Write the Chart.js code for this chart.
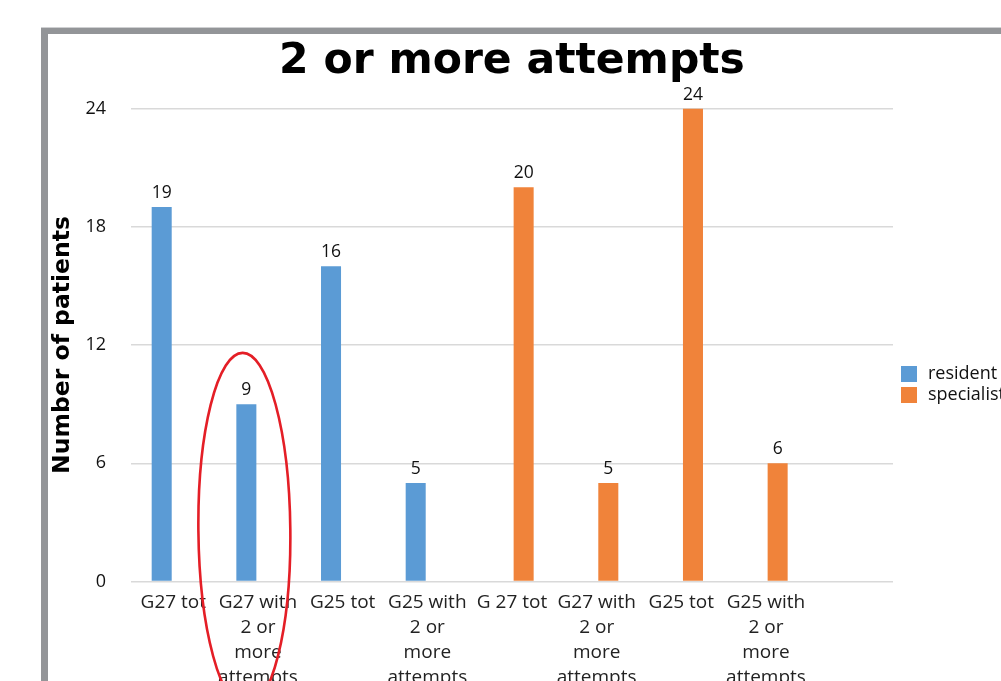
<!DOCTYPE html>
<html>
<head>
<meta charset="utf-8">
<title>2 or more attempts</title>
<script src="https://cdn.jsdelivr.net/npm/chart.js@4.4.1/dist/chart.umd.min.js"></script>
<style>
  html, body { margin: 0; padding: 0; background: #fff; overflow: hidden; width: 1001px; height: 681px; }
  #frameEdge { position: absolute; left: 41px; top: 27px; right: 0; height: 1px; background: #cfd0d2; }
  #frame { position: absolute; left: 41px; top: 28px; right: 0; bottom: 0;
           border-top: 6px solid #939598; border-left: 7px solid #939598; }
  #wrap { position: absolute; left: 0; top: 0; width: 1001px; height: 700px; }
</style>
</head>
<body>
<div id="frameEdge"></div>
<div id="frame"></div>
<div id="wrap"><canvas id="chart" width="1001" height="700"></canvas></div>
<script>
// Categories (multi-line labels); the last slot is an empty spacer category
const categories = [
  ["G27 tot"],
  ["G27 with", "2 or", "more", "attempts"],
  ["G25 tot"],
  ["G25 with", "2 or", "more", "attempts"],
  ["G 27 tot"],
  ["G27 with", "2 or", "more", "attempts"],
  ["G25 tot"],
  ["G25 with", "2 or", "more", "attempts"],
  ""
];
const seriesNames = ["resident", "specialist"];
const residentValues   = [19, 9, 16, 5, null, null, null, null, null];
const specialistValues = [null, null, null, null, 20, 5, 24, 6, null];
const yTicks = [0, 6, 12, 18, 24];
const chartTitle = "2 or more attempts";
const yAxisTitle = "Number of patients";
// Highlighted category (resident bar) and the vertical extent of the ring, in axis units
const highlightIndex = 1;
const highlightRange = [-6.4, 11.6];

const seriesColors = ["#5B9BD5", "#F0833A"];
const textFont = "'Open Sans', 'Liberation Sans', sans-serif";

// Value labels above each bar
const valueLabels = {
  id: "valueLabels",
  afterDatasetsDraw(chart) {
    const ctx = chart.ctx;
    ctx.save();
    ctx.font = "17.5px " + textFont;
    ctx.fillStyle = "#111";
    ctx.textAlign = "center";
    ctx.textBaseline = "alphabetic";
    chart.data.datasets.forEach((ds, di) => {
      const meta = chart.getDatasetMeta(di);
      meta.data.forEach((bar, i) => {
        const v = ds.data[i];
        if (v === null || v === undefined) return;
        ctx.fillText(String(v), bar.x, bar.y - 9);
      });
    });
    ctx.restore();
  }
};

// Legend drawn to the right of the plot area
const sideLegend = {
  id: "sideLegend",
  afterDraw(chart) {
    const ctx = chart.ctx;
    const area = chart.chartArea;
    const x = area.right + 8;
    const y0 = (area.top + area.bottom) / 2 + 21;
    ctx.save();
    ctx.font = "18px " + textFont;
    ctx.textBaseline = "middle";
    ctx.textAlign = "left";
    chart.data.datasets.forEach((ds, i) => {
      const y = y0 + i * 21;
      ctx.fillStyle = ds.backgroundColor;
      ctx.fillRect(x, y, 16, 16);
      ctx.fillStyle = "#111";
      ctx.fillText(ds.label, x + 27, y + 7.5);
    });
    ctx.restore();
  }
};

// Red ring around the highlighted category
const highlightRing = {
  id: "highlightRing",
  afterDraw(chart) {
    const ctx = chart.ctx;
    const xs = chart.scales.x, ys = chart.scales.y;
    const bar = chart.getDatasetMeta(0).data[highlightIndex];
    const step = xs.getPixelForValue(1) - xs.getPixelForValue(0);
    const top = ys.getPixelForValue(highlightRange[1]);
    const bottom = ys.getPixelForValue(highlightRange[0]);
    ctx.save();
    ctx.strokeStyle = "#E41E26";
    ctx.lineWidth = 2.6;
    ctx.beginPath();
    ctx.ellipse(bar.x - 2, (top + bottom) / 2, step * 0.543, (bottom - top) / 2, -0.01, 0, Math.PI * 2);
    ctx.stroke();
    ctx.restore();
  }
};

new Chart(document.getElementById("chart"), {
  type: "bar",
  data: {
    labels: categories,
    datasets: [
      { label: seriesNames[0], data: residentValues, backgroundColor: seriesColors[0] },
      { label: seriesNames[1], data: specialistValues, backgroundColor: seriesColors[1] }
    ]
  },
  options: {
    responsive: false,
    animation: false,
    events: [],
    categoryPercentage: 0.55,
    barPercentage: 0.86,
    layout: { padding: { left: 40, right: 108, top: 0, bottom: 6.5 } },
    plugins: {
      legend: { display: false },
      tooltip: { enabled: false },
      title: {
        display: true,
        text: chartTitle,
        fullSize: false,
        color: "#000",
        font: { family: "'DejaVu Sans', sans-serif", weight: "bold", size: 42.5, lineHeight: 1.2 },
        padding: { top: 36, bottom: 21.5 }
      }
    },
    scales: {
      x: {
        afterFit(scale) { scale.height = 112; },
        grid: { display: false, drawTicks: false, tickLength: 0 },
        border: { display: false },
        ticks: {
          color: "#222",
          font: { family: textFont, size: 19, lineHeight: 25 / 19 },
          padding: 9,
          maxRotation: 0,
          minRotation: 0,
          autoSkip: false
        }
      },
      y: {
        min: yTicks[0],
        max: yTicks[yTicks.length - 1],
        afterBuildTicks(scale) { scale.ticks = yTicks.map(v => ({ value: v })); },
        afterFit(scale) { scale.width = 91; },
        grid: { color: "#d9d9d9", lineWidth: 1.5, drawTicks: false, tickLength: 0 },
        border: { display: false },
        ticks: {
          color: "#111",
          font: { family: textFont, size: 18 },
          padding: 25
        },
        title: {
          display: true,
          text: yAxisTitle,
          color: "#000",
          font: { family: "'DejaVu Sans', sans-serif", weight: "bold", size: 23.5, lineHeight: 1.2 },
          padding: { top: 9, bottom: 8 }
        }
      }
    }
  },
  plugins: [valueLabels, sideLegend, highlightRing]
});
</script>
</body>
</html>
